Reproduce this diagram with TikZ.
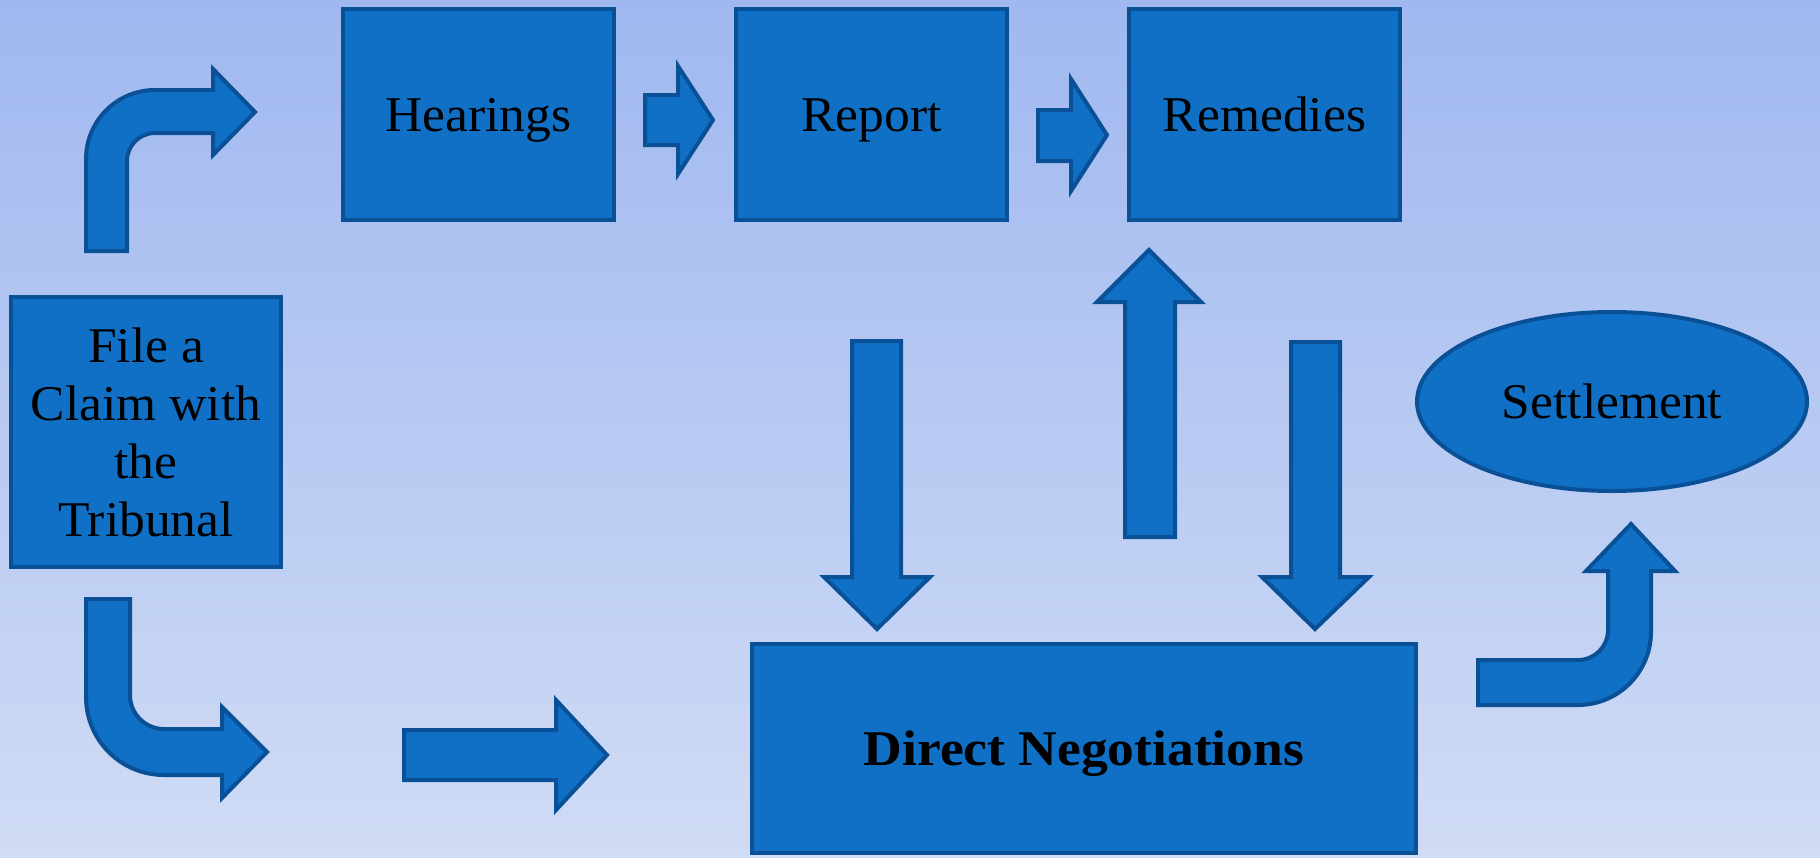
\documentclass[tikz,border=0pt]{standalone}
\usepackage{fontspec}
\setmainfont{Liberation Serif}[FakeStretch=1.03, BoldFeatures={FakeStretch=1.07}]
\usetikzlibrary{shapes.geometric}
\definecolor{bgtop}{RGB}{160,184,240}
\definecolor{bgbot}{RGB}{208,220,245}
\definecolor{boxfill}{RGB}{16,112,198}
\definecolor{boxline}{RGB}{10,80,150}
\tikzset{
  procbox/.style={rectangle, draw=boxline, fill=boxfill, line width=4pt, inner sep=0pt,
    align=center, text=black, font=\fontsize{50}{58}\selectfont},
  oneline/.style={text height=33pt, text depth=0pt},
  endellipse/.style={ellipse, draw=boxline, fill=boxfill, line width=4pt, inner sep=0pt,
    text=black, font=\fontsize{50}{58}\selectfont, oneline},
  blockarrow/.style={draw=boxline, fill=boxfill, line width=4pt, line join=miter}
}
\begin{document}
\begin{tikzpicture}[x=1pt,y=-1pt]
\useasboundingbox (0,0) rectangle (1820,857);
\shade[top color=bgtop, bottom color=bgbot] (0,0) rectangle (1820,857);

% boxes
\node[procbox, oneline, minimum width=271pt, minimum height=211pt] (hear) at (478.5,114.5) {Hearings};
\node[procbox, oneline, minimum width=271pt, minimum height=211pt] (rep) at (871.5,114.5) {Report};
\node[procbox, oneline, minimum width=271pt, minimum height=211pt] (rem) at (1264.5,114.5) {Remedies};
\node[procbox, minimum width=270pt, minimum height=270pt] (file) at (146,432) {File a\\Claim with\\the\\Tribunal};
\node[procbox, oneline, minimum width=664pt, minimum height=209pt] (dn) at (1084,748.5) {\bfseries Direct Negotiations};
\node[endellipse, minimum width=390pt, minimum height=179pt] (set) at (1612,401.5) {Settlement};

% bent arrow: file -> hearings
\draw[blockarrow] (86,251) -- (86,159) .. controls (86,120.9) and (116.9,90) .. (155,90)
  -- (213,90) -- (213,69) -- (255,112) -- (213,155) -- (213,133) -- (155,133)
  .. controls (139.5,133) and (127,145.5) .. (127,161) -- (127,251) -- cycle;
% hearings -> report
\draw[blockarrow] (645,95) -- (678,95) -- (678,66) -- (713,120) -- (678,174) -- (678,145) -- (645,145) -- cycle;
% report -> remedies
\draw[blockarrow] (1038,110) -- (1071,110) -- (1071,79) -- (1107,135) -- (1071,191) -- (1071,161) -- (1038,161) -- cycle;
% bent arrow: file -> down/right
\draw[blockarrow] (86,599) -- (86,697) .. controls (86,740.1) and (120.9,775) .. (164,775)
  -- (222,775) -- (222,798) -- (267,752) -- (222,707) -- (222,729) -- (164,729)
  .. controls (145.2,729) and (130,713.8) .. (130,695) -- (130,599) -- cycle;
% straight arrow -> direct negotiations
\draw[blockarrow] (404,730) -- (556,730) -- (556,700) -- (607,755) -- (556,810) -- (556,780) -- (404,780) -- cycle;
% down arrow (report -> dn)
\draw[blockarrow] (852,341) -- (901,341) -- (901,577) -- (930,577) -- (877,629) -- (824,577) -- (852,577) -- cycle;
% up arrow (dn -> remedies)
\draw[blockarrow] (1125,537) -- (1125,302) -- (1097,302) -- (1149,250) -- (1201,302) -- (1175,302) -- (1175,537) -- cycle;
% down arrow (remedies -> dn)
\draw[blockarrow] (1291,342) -- (1340,342) -- (1340,577) -- (1369,577) -- (1315,629) -- (1262,577) -- (1291,577) -- cycle;
% bent arrow: dn -> settlement
\draw[blockarrow] (1478,660) -- (1578,660) .. controls (1594.6,660) and (1608,646.6) .. (1608,630)
  -- (1608,571) -- (1586,571) -- (1631,524) -- (1675,571) -- (1651,571) -- (1651,632)
  .. controls (1651,672.3) and (1618.3,705) .. (1578,705) -- (1478,705) -- cycle;
\end{tikzpicture}
\end{document}
